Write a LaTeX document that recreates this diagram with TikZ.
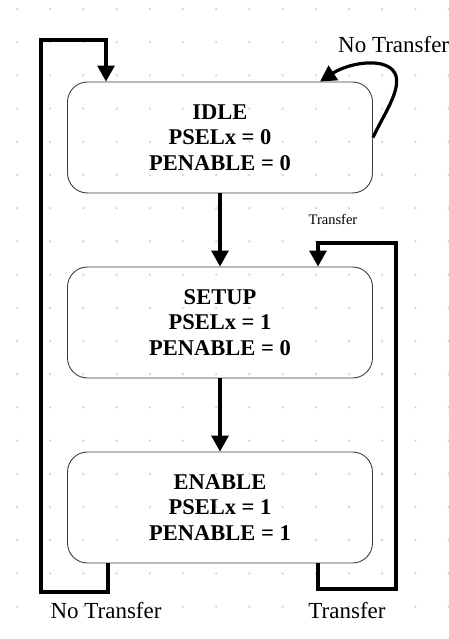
\documentclass[tikz,border=0pt]{standalone}
\usepackage{fontspec}
\setmainfont{Liberation Serif}
\usetikzlibrary{arrows.meta}
\tikzset{
  state/.style={draw=black!75, line width=0.9pt, rounded corners=20pt,
    minimum width=305pt, minimum height=111pt, align=center,
    font=\fontsize{22.5}{25.5}\selectfont\bfseries, inner sep=0pt},
  conn/.style={line width=3.2pt, -{Triangle[width=17pt,length=16pt]}},
  lbl/.style={font=\fontsize{23}{25}\selectfont, inner sep=0pt},
  smalllbl/.style={font=\fontsize{14.5}{16}\selectfont, inner sep=0pt},
  gridDot/.style={fill=black!16}
}
\begin{document}
\begin{tikzpicture}[x=1pt,y=-1pt]
  \useasboundingbox (0,0) rectangle (448,639);
  \fill[white] (0,0) rectangle (448,639);
  % background dot grid
  \foreach \i in {0,...,13}{
    \foreach \j in {0,...,19}{
      \fill[gridDot] ({17+33.2*\i},{9+33.2*\j}) circle (1.3pt);
    }
  }
  % states
  \node[state] (idle)   at (220,137.5) {IDLE\\PSELx = 0\\PENABLE = 0};
  \node[state] (setup)  at (220,322.5) {SETUP\\PSELx = 1\\PENABLE = 0};
  \node[state] (enable) at (220,507.5) {ENABLE\\PSELx = 1\\PENABLE = 1};
  % helper coordinates for the loop wires
  \coordinate (la) at (108,0);
  \coordinate (lb) at (106,0);
  \coordinate (ra) at (318,0);
  \coordinate (sx) at (320,0);
  % straight transitions
  \draw[conn] (idle.south) -- (setup.north);
  \draw[conn] (setup.south) -- (enable.north);
  % ENABLE -> IDLE (no transfer)
  \draw[conn, line join=miter] (enable.south -| la) -- (108,592) -- (41,592)
      -- (41,40) -- (106,40) -- (idle.north -| lb);
  % ENABLE -> SETUP (transfer)
  \draw[conn, line join=miter] (enable.south -| ra) -- (318,589) -- (396,589)
      -- (396,243) -- (318,243) -- (setup.north -| ra);
  % IDLE self loop (no transfer)
  \draw[conn] (idle.east) .. controls (384,114) and (400,92) .. (396,76)
      .. controls (390,56) and (350,62) .. (idle.north -| sx);
  % labels
  \node[lbl, anchor=base west] (lnt1) at (338,53) {No Transfer};
  \node[smalllbl] (lt1) at (333,219) {Transfer};
  \node[lbl] (lnt2) at (106,611) {No Transfer};
  \node[lbl] (lt2) at (347,611) {Transfer};
\end{tikzpicture}
\end{document}
